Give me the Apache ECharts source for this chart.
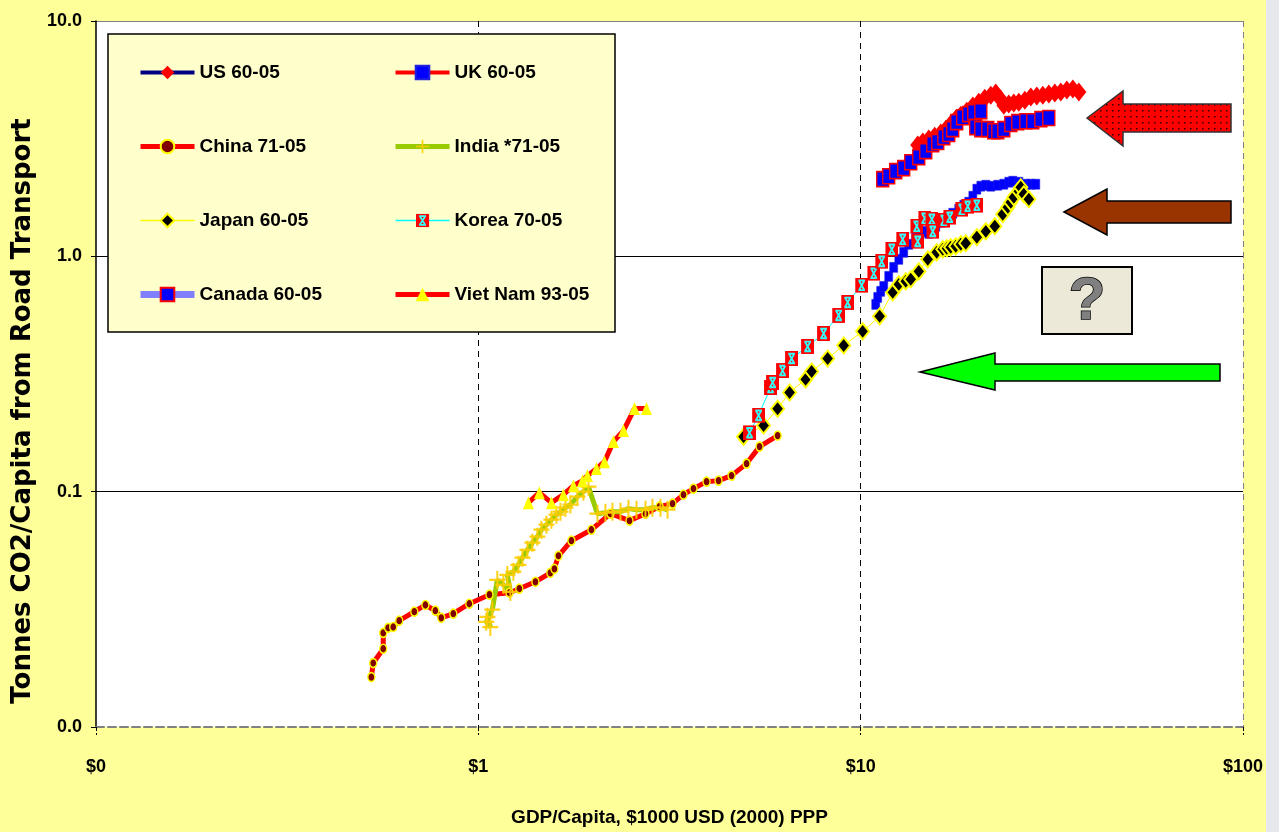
<!DOCTYPE html>
<html><head><meta charset="utf-8">
<script src="https://cdn.jsdelivr.net/npm/echarts@6/dist/echarts.min.js"></script>
<style>html,body{margin:0;padding:0;background:#FFFF99}#c{width:1279px;height:832px}</style>
</head><body><div id="c"></div>
<script>
// ---- data (GDP/capita in $1000 USD 2000 PPP, tonnes CO2/capita road transport) ----
const xTickLabels = ['$0', '$1', '$10', '$100'];
const yTickLabels = ['0.0', '0.1', '1.0', '10.0'];

const usGdp = [14.10,14.54,15.07,15.62,16.20,16.70,17.20,17.73,18.28,18.95,19.65,20.37,21.12,21.89,22.56,23.12,23.68,24.40,25.15,25.92,26.88,27.86,28.88,29.95,31.05,32.20,33.38,34.62,35.89,37.21];
const usCo2 = [2.97,3.06,3.15,3.24,3.34,3.47,3.65,3.83,3.98,4.14,4.35,4.52,4.70,4.84,4.94,4.70,4.39,4.44,4.48,4.52,4.61,4.75,4.80,4.84,4.89,4.94,4.99,5.09,5.14,4.99];

const ukGdp = [10.95,11.08,11.28,11.49,11.84,12.20,12.58,12.96,13.36,13.93,14.54,15.07,15.72,16.20,16.80,17.41,18.05,18.61,19.17,19.65,20.13,20.62,21.25,21.89,22.84,23.68,24.40,25.00,25.92,27.04,27.86,28.71];
const ukCo2 = [0.625,0.669,0.710,0.745,0.822,0.898,0.971,1.040,1.125,1.216,1.277,1.253,1.342,1.395,1.451,1.524,1.585,1.648,1.698,1.800,1.929,1.986,2.005,1.986,2.005,2.025,2.065,2.085,2.065,2.025,2.025,2.025];

const chinaGdp = [0.525,0.531,0.564,0.564,0.581,0.599,0.621,0.680,0.727,0.772,0.800,0.860,0.947,1.069,1.206,1.280,1.410,1.543,1.581,1.620,1.752,1.976,2.216,2.485,2.736,2.977,3.220,3.440,3.654,3.953,4.249,4.596,5.030,5.440,6.064];
const chinaCo2 = [0.0163,0.0187,0.0215,0.0251,0.0264,0.0266,0.0283,0.0309,0.0330,0.0312,0.0291,0.0303,0.0334,0.0365,0.0372,0.0387,0.0414,0.0452,0.0470,0.0534,0.0619,0.0689,0.0806,0.0753,0.0806,0.0864,0.0889,0.0971,0.1030,0.1103,0.1114,0.1170,0.1316,0.1554,0.1731];

const indiaGdp = [1.056,1.075,1.049,1.088,1.121,1.163,1.213,1.191,1.235,1.273,1.304,1.344,1.385,1.427,1.462,1.507,1.553,1.601,1.640,1.690,1.741,1.816,1.883,1.941,2.049,2.150,2.243,2.354,2.470,2.592,2.736,2.854,2.995,3.125];
const indiaCo2 = [0.0294,0.0266,0.0280,0.0315,0.0422,0.0402,0.0375,0.0443,0.0457,0.0489,0.0524,0.0566,0.0607,0.0644,0.0689,0.0724,0.0760,0.0798,0.0822,0.0855,0.0881,0.0952,0.1000,0.1050,0.0806,0.0814,0.0822,0.0822,0.0847,0.0838,0.0838,0.0855,0.0855,0.0838];

const japanGdp = [4.939,5.573,6.064,6.518,7.178,7.443,8.196,9.028,10.12,11.21,12.13,12.58,13.12,13.52,14.19,14.98,15.81,16.40,16.80,17.20,17.73,18.28,18.83,20.13,21.25,22.43,23.53,24.26,24.70,25.15,25.92,26.23,26.71,27.53];
const japanCo2 = [0.171,0.191,0.225,0.264,0.300,0.324,0.368,0.418,0.480,0.556,0.703,0.760,0.783,0.799,0.863,0.971,1.040,1.071,1.081,1.092,1.103,1.125,1.136,1.205,1.277,1.342,1.509,1.616,1.698,1.782,1.891,1.966,1.836,1.749];

const koreaGdp = [5.121,5.408,5.812,5.884,6.249,6.597,7.265,8.000,8.758,9.247,10.06,10.82,11.35,12.06,12.88,14.02,14.71,15.35,14.10,15.44,16.50,17.10,18.38,19.06,20.13];
const koreaCo2 = [0.178,0.211,0.277,0.291,0.327,0.368,0.414,0.470,0.561,0.637,0.753,0.847,0.952,1.071,1.181,1.342,1.451,1.437,1.158,1.277,1.423,1.466,1.585,1.632,1.648];

const canadaGdp = [11.42,11.84,12.35,12.96,13.52,14.19,14.80,15.44,15.91,16.50,17.00,17.41,17.84,18.49,19.17,19.76,20.62,20.00,20.62,21.50,22.29,22.84,23.68,24.70,25.76,27.04,28.20,29.60,31.05];
const canadaCo2 = [2.13,2.19,2.30,2.37,2.51,2.64,2.80,3.00,3.06,3.21,3.31,3.47,3.72,3.90,4.02,4.10,4.14,3.54,3.47,3.47,3.40,3.40,3.47,3.65,3.72,3.75,3.75,3.83,3.87];

const vietGdp = [1.352,1.444,1.553,1.669,1.773,1.872,1.929,2.037,2.137,2.256,2.397,2.561,2.753];
const vietCo2 = [0.0898,0.0990,0.0898,0.0971,0.1060,0.1114,0.1170,0.1253,0.1341,0.1632,0.1818,0.2254,0.2254];

function pairs(xs, ys) { return xs.map((x, i) => [x, ys[i]]); }

const SANS = "'Liberation Sans',Arial,Helvetica,sans-serif";
const koreaSvg = "<svg xmlns='http://www.w3.org/2000/svg' width='26' height='28' viewBox='0 0 13 14'><rect width='13' height='14' fill='#FF0000'/><path d='M3.2 2.5H9.8M3.2 11.5H9.8M3.8 2.5L9.2 11.5M9.2 2.5L3.8 11.5' stroke='#33FFFF' stroke-width='1.8' fill='none'/></svg>";
const koreaSymbol = 'image://data:image/svg+xml;charset=utf-8,' + encodeURIComponent(koreaSvg);
const crossSymbol = 'path://M7,0h2v7h7v2h-7v7h-2v-7h-7v-2h7z';

// dotted fill for the top annotation arrow
const dotCanvas = document.createElement('canvas');
dotCanvas.width = 6; dotCanvas.height = 6;
(function () { const g = dotCanvas.getContext('2d'); g.fillStyle = '#FF0000'; g.fillRect(0, 0, 6, 6); g.fillStyle = '#300000'; g.fillRect(2, 2, 1.5, 1.5); })();

const chart = echarts.init(document.getElementById('c'), null, {renderer: 'canvas'});
const legendText = {color: '#000', fontWeight: 'bold', fontSize: 19, fontFamily: SANS};
const legendBase = {orient: 'vertical', top: 63, itemWidth: 54, itemHeight: 17, itemGap: 55, padding: 0, textStyle: legendText};

const option = {
  animation: false,
  backgroundColor: '#FFFF99',
  grid: {left: 96, right: 36, top: 21, bottom: 105, show: true, backgroundColor: '#FFFFFF', borderWidth: 0,
    containLabel: false, outerBoundsMode: 'none'},
  legend: [
    Object.assign({}, legendBase, {left: 137, data: [
      {name: 'US 60-05', lineStyle: {width: 4}},
      {name: 'China 71-05', lineStyle: {width: 5}},
      {name: 'Japan 60-05', lineStyle: {width: 1.5}},
      {name: 'Canada 60-05', lineStyle: {width: 7}}]}),
    Object.assign({}, legendBase, {left: 393, data: [
      {name: 'UK 60-05', lineStyle: {width: 4}},
      {name: 'India *71-05', lineStyle: {width: 5}},
      {name: 'Korea 70-05', lineStyle: {width: 1.5}},
      {name: 'Viet Nam 93-05', lineStyle: {width: 5}}]})
  ],
  xAxis: {
    type: 'log', logBase: 10, min: 0.1, max: 100,
    name: 'GDP/Capita, $1000 USD (2000) PPP', nameLocation: 'middle', nameGap: 81,
    nameTextStyle: {color: '#000', fontWeight: 'bold', fontSize: 19, fontFamily: SANS},
    axisLine: {lineStyle: {color: '#808080', type: 'dashed', width: 2}},
    axisTick: {show: true, length: 8, lineStyle: {color: '#000', type: 'dashed'}},
    axisLabel: {margin: 31, color: '#000', fontWeight: 'bold', fontSize: 18, fontFamily: SANS,
      formatter: (v, i) => xTickLabels[i]},
    splitLine: {show: true, showMinLine: false, showMaxLine: true, lineStyle: {color: ['#000', '#000', '#808080'], type: [6, 5], width: 1}}
  },
  yAxis: {
    type: 'log', logBase: 10, min: 0.01, max: 10,
    name: 'Tonnes CO2/Capita from Road Transport', nameLocation: 'middle', nameGap: 60, nameRotate: 90,
    nameTextStyle: {color: '#000', fontWeight: 'bold', fontSize: 26, fontFamily: "'DejaVu Sans',sans-serif", padding: [0, 74, 0, 0]},
    axisLine: {show: true, lineStyle: {color: '#000', width: 1.5}},
    axisTick: {show: true, length: 5, lineStyle: {color: '#000'}},
    axisLabel: {margin: 14, color: '#000', fontWeight: 'bold', fontSize: 18, fontFamily: SANS,
      formatter: (v, i) => yTickLabels[i]},
    splitLine: {show: true, showMinLine: false, showMaxLine: true, lineStyle: {color: ['#000', '#000', '#808080'], width: 1.2}}
  },
  series: [
    {name: 'US 60-05', type: 'line', data: pairs(usGdp, usCo2), showAllSymbol: true,
      symbol: 'diamond', symbolSize: [15, 19], itemStyle: {color: '#FF0000'}, lineStyle: {color: '#000080', width: 3}},
    {name: 'UK 60-05', type: 'line', data: pairs(ukGdp, ukCo2), showAllSymbol: true,
      symbol: 'rect', symbolSize: [8, 10], itemStyle: {color: '#0000FF', borderColor: '#2222DD', borderWidth: 0.5}, lineStyle: {color: '#FF0000', width: 3}},
    {name: 'China 71-05', type: 'line', data: pairs(chinaGdp, chinaCo2), showAllSymbol: true,
      symbol: 'circle', symbolSize: [7, 9], itemStyle: {color: '#800000', borderColor: '#FFFF00', borderWidth: 1.5}, lineStyle: {color: '#FF0000', width: 5}},
    {name: 'India *71-05', type: 'line', data: pairs(indiaGdp, indiaCo2), showAllSymbol: true,
      symbol: crossSymbol, symbolSize: [16, 18], itemStyle: {color: '#FFCC00', opacity: 0.9}, lineStyle: {color: '#99CC00', width: 5}},
    {name: 'Japan 60-05', type: 'line', data: pairs(japanGdp, japanCo2), showAllSymbol: true,
      symbol: 'diamond', symbolSize: [13, 16], itemStyle: {color: '#000000', borderColor: '#FFFF00', borderWidth: 2}, lineStyle: {color: '#FFFF00', width: 1}},
    {name: 'Korea 70-05', type: 'line', data: pairs(koreaGdp, koreaCo2), showAllSymbol: true,
      symbol: koreaSymbol, symbolSize: [13, 15], itemStyle: {color: '#FF0000'}, lineStyle: {color: '#00FFFF', width: 1}},
    {name: 'Canada 60-05', type: 'line', data: pairs(canadaGdp, canadaCo2), showAllSymbol: true,
      symbol: 'rect', symbolSize: [12, 15], itemStyle: {color: '#0000FF', borderColor: '#FF0000', borderWidth: 1.5}, lineStyle: {color: '#8080FF', width: 6}},
    {name: 'Viet Nam 93-05', type: 'line', data: pairs(vietGdp, vietCo2), showAllSymbol: true,
      symbol: 'triangle', symbolSize: [11, 13], itemStyle: {color: '#FFFF00'}, lineStyle: {color: '#FF0000', width: 5}}
  ],
  graphic: [
    {type: 'rect', z: 3, silent: true, shape: {x: 108, y: 34, width: 507, height: 298}, style: {fill: '#FFFFCC', stroke: '#000', lineWidth: 1.5}},
    {type: 'rect', z: 1, silent: true, shape: {x: 1266, y: 0, width: 13, height: 832}, style: {fill: '#E6E8EE'}},
    // red dotted arrow
    {type: 'polygon', z: 10, silent: true, shape: {points: [[1087,118],[1123,91],[1123,104],[1231,104],[1231,132],[1123,132],[1123,146]]},
      style: {fill: {image: dotCanvas, repeat: 'repeat'}, stroke: '#333', lineWidth: 1.5}},
    // brown arrow
    {type: 'polygon', z: 10, silent: true, shape: {points: [[1064,212],[1107,189],[1107,201],[1231,201],[1231,223],[1107,223],[1107,235]]},
      style: {fill: '#993300', stroke: '#000', lineWidth: 1.5}},
    // green arrow
    {type: 'polygon', z: 10, silent: true, shape: {points: [[920,372],[995,353],[995,364],[1220,364],[1220,381],[995,381],[995,390]]},
      style: {fill: '#00FF00', stroke: '#000', lineWidth: 1.5}},
    // question box
    {type: 'rect', z: 10, silent: true, shape: {x: 1042, y: 267, width: 90, height: 67}, style: {fill: '#ECE9D8', stroke: '#000', lineWidth: 2}},
    {type: 'text', z: 11, silent: true, x: 1087, y: 302, style: {text: '?', fill: '#808080', stroke: '#000', lineWidth: 1.5,
      font: 'bold 60px "Liberation Sans", Arial, sans-serif', align: 'center', verticalAlign: 'middle'}}
  ]
};
chart.setOption(option);
</script></body></html>
